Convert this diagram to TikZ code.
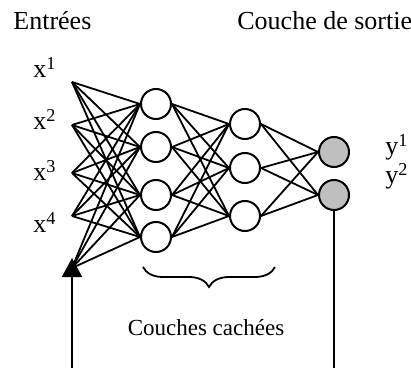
\documentclass[tikz,border=0pt]{standalone}
\usepackage{fontspec}
\setmainfont{Liberation Serif}
\usetikzlibrary{arrows.meta,decorations.pathreplacing}
\pgfdeclarelayer{edgelayer}
\pgfdeclarelayer{nodelayer}
\pgfsetlayers{edgelayer,nodelayer,main}
\definecolor{lgray}{rgb}{0.75,0.75,0.75}
\tikzstyle{neuron}=[circle, fill=white, draw=black, line width=1pt, inner sep=0pt, minimum size=15pt]
\tikzstyle{outneuron}=[neuron, fill=lgray]
\tikzstyle{edge}=[-, draw=black, line width=0.9pt]
\tikzstyle{tag}=[font=\fontsize{13}{15}\selectfont, inner sep=0pt]

\begin{document}
\begin{tikzpicture}[x=0.5pt, y=-0.5pt]
            \useasboundingbox (0,0) rectangle (411,368);
            \begin{pgfonlayer}{nodelayer}
                \node [style=neuron] (h1) at (156, 104) {};
                \node [style=neuron] (h2) at (156, 147) {};
                \node [style=neuron] (h3) at (156, 195) {};
                \node [style=neuron] (h4) at (156, 237) {};
                \node [style=neuron] (k1) at (245, 124) {};
                \node [style=neuron] (k2) at (245, 168) {};
                \node [style=neuron] (k3) at (245, 216) {};
                \node [style=outneuron] (o1) at (334, 152) {};
                \node [style=outneuron] (o2) at (334, 195) {};
                \coordinate (x1) at (72, 82);
                \coordinate (x2) at (72, 125);
                \coordinate (x3) at (72, 173);
                \coordinate (x4) at (72, 216);
                \coordinate (fb) at (72, 268);
                \coordinate (tip) at (72, 258);
                \coordinate (inb) at (72, 368);
                \coordinate (outb) at (334, 368);
                \coordinate (bl) at (143, 267);
                \coordinate (br) at (275, 267);
                \node [style=tag, anchor=base west] (entrees) at (13, 30) {Entrées};
                \node [style=tag, anchor=base west] (sortie) at (237, 30) {Couche de sortie};
                \node [style=tag, anchor=base west] (lx1) at (33, 78) {x\textsuperscript{1}};
                \node [style=tag, anchor=base west] (lx2) at (33, 130) {x\textsuperscript{2}};
                \node [style=tag, anchor=base west] (lx3) at (33, 181) {x\textsuperscript{3}};
                \node [style=tag, anchor=base west] (lx4) at (33, 233) {x\textsuperscript{4}};
                \node [style=tag, anchor=base west] (ly1) at (385, 155) {y\textsuperscript{1}};
                \node [style=tag, anchor=base west] (ly2) at (385, 184) {y\textsuperscript{2}};
                \node [style=tag, font=\fontsize{11.5}{14}\selectfont] (cachees) at (206, 328) {Couches cachées};
            \end{pgfonlayer}
            \begin{pgfonlayer}{edgelayer}
                \draw [style=edge] (x1) to (h1.west);
                \draw [style=edge] (x1) to (h2.west);
                \draw [style=edge] (x1) to (h3.west);
                \draw [style=edge] (x1) to (h4.west);
                \draw [style=edge] (x2) to (h1.west);
                \draw [style=edge] (x2) to (h2.west);
                \draw [style=edge] (x2) to (h3.west);
                \draw [style=edge] (x2) to (h4.west);
                \draw [style=edge] (x3) to (h1.west);
                \draw [style=edge] (x3) to (h2.west);
                \draw [style=edge] (x3) to (h3.west);
                \draw [style=edge] (x3) to (h4.west);
                \draw [style=edge] (x4) to (h1.west);
                \draw [style=edge] (x4) to (h2.west);
                \draw [style=edge] (x4) to (h3.west);
                \draw [style=edge] (x4) to (h4.west);
                \draw [style=edge] (fb) to (h1.west);
                \draw [style=edge] (fb) to (h2.west);
                \draw [style=edge] (fb) to (h3.west);
                \draw [style=edge] (fb) to (h4.west);
                \draw [style=edge] (h1.east) to (k1.west);
                \draw [style=edge] (h1.east) to (k2.west);
                \draw [style=edge] (h1.east) to (k3.west);
                \draw [style=edge] (h2.east) to (k1.west);
                \draw [style=edge] (h2.east) to (k2.west);
                \draw [style=edge] (h2.east) to (k3.west);
                \draw [style=edge] (h3.east) to (k1.west);
                \draw [style=edge] (h3.east) to (k2.west);
                \draw [style=edge] (h3.east) to (k3.west);
                \draw [style=edge] (h4.east) to (k1.west);
                \draw [style=edge] (h4.east) to (k2.west);
                \draw [style=edge] (h4.east) to (k3.west);
                \draw [style=edge] (k1.east) to (o1.west);
                \draw [style=edge] (k1.east) to (o2.west);
                \draw [style=edge] (k2.east) to (o1.west);
                \draw [style=edge] (k2.east) to (o2.west);
                \draw [style=edge] (k3.east) to (o1.west);
                \draw [style=edge] (k3.east) to (o2.west);
                \draw [style=edge, -{Triangle[length=9.5pt, width=10pt]}] (inb) to (tip);
                \draw [style=edge] (o2.south) to (outb);
                \draw [style=edge, decorate, decoration={brace, mirror, amplitude=10pt}] (bl) -- (br);
            \end{pgfonlayer}
        \end{tikzpicture}
\end{document}
